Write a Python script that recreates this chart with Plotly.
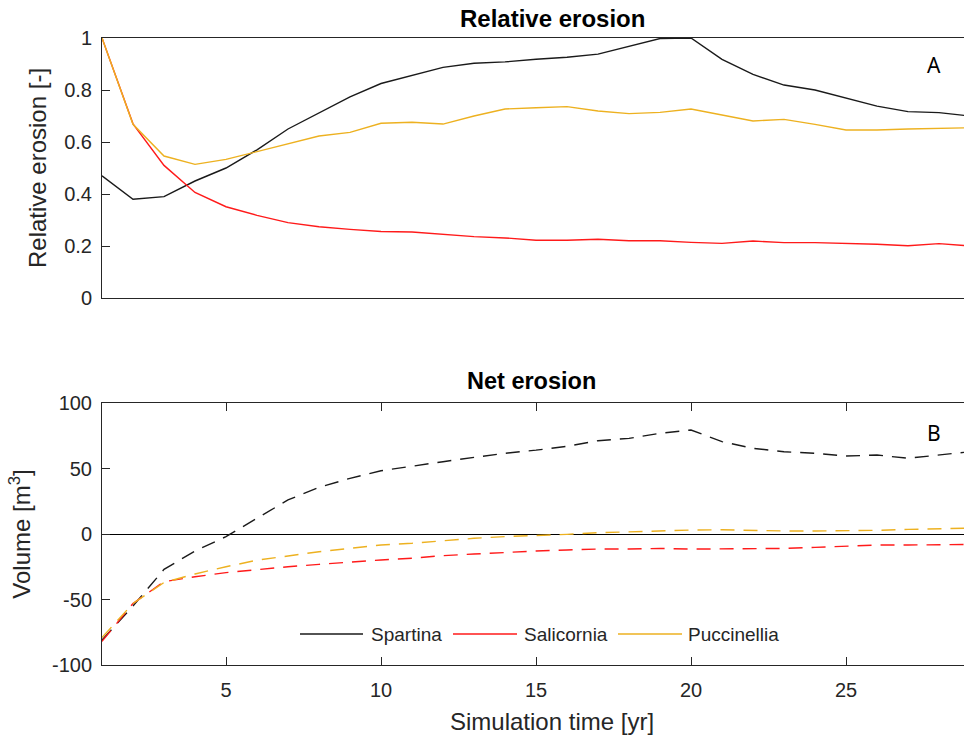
import plotly.graph_objects as go

years = list(range(1, 30))

# Relative erosion [-]
rel_spartina = [0.47, 0.38, 0.39, 0.45, 0.50, 0.57, 0.65, 0.713, 0.774, 0.825,
                0.857, 0.887, 0.903, 0.908, 0.918, 0.926, 0.938, 0.967, 0.998, 1.0,
                0.918, 0.86, 0.819, 0.80, 0.768, 0.738, 0.717, 0.713, 0.70]
rel_salicornia = [1.0, 0.67, 0.51, 0.406, 0.351, 0.318, 0.29, 0.274, 0.264, 0.256,
                  0.254, 0.245, 0.236, 0.231, 0.222, 0.222, 0.226, 0.22, 0.22, 0.214,
                  0.21, 0.219, 0.213, 0.213, 0.21, 0.207, 0.201, 0.209, 0.20]
rel_puccinellia = [1.0, 0.668, 0.546, 0.514, 0.533, 0.563, 0.595, 0.623, 0.637, 0.672,
                   0.676, 0.669, 0.70, 0.727, 0.732, 0.736, 0.719, 0.709, 0.714, 0.727,
                   0.704, 0.681, 0.687, 0.668, 0.646, 0.646, 0.65, 0.653, 0.655]

# Net erosion volume [m3]
net_spartina = [-81, -55, -27, -13, -2, 12, 26, 35.6, 42.5, 48.3,
                52, 55.2, 58.5, 61.6, 64, 67, 71.2, 73, 76.9, 79.4,
                70.5, 65.4, 62.8, 61.6, 59.5, 60.3, 57.8, 60.3, 62.8]
net_salicornia = [-82, -53, -36.4, -32.6, -29.5, -27, -25, -23.2, -21.4, -19.8,
                  -18.5, -16.5, -15.3, -14, -13, -12.2, -11.5, -11.5, -11, -11.5,
                  -11.5, -11, -11, -10.2, -9.2, -8.4, -8.4, -8.4, -8]
net_puccinellia = [-79, -53, -37, -30.5, -25, -20, -16.8, -13.5, -11, -8.4,
                   -7.1, -5.1, -3.3, -2, -1.3, -0.3, 1, 1.8, 2.5, 3,
                   3.2, 2.5, 2.3, 2.3, 2.5, 2.8, 3.5, 3.8, 4.5]

names = ["Spartina", "Salicornia", "Puccinellia"]
colors = ["#1a1a1a", "#ff1a1a", "#EDB120"]
rel_series = [rel_spartina, rel_salicornia, rel_puccinellia]
net_series = [net_spartina, net_salicornia, net_puccinellia]

rel_ticks = [0, 0.2, 0.4, 0.6, 0.8, 1]
rel_ticktext = ["0", "0.2", "0.4", "0.6", "0.8", "1"]
net_ticks = [-100, -50, 0, 50, 100]
net_ticktext = ["-100", "-50", "0", "50", "100"]
year_ticks = [5, 10, 15, 20, 25]

W, H = 964, 738
L = 102
px_per_year = 31
x_max = 1 + (W - L) / px_per_year

def py(p):
    return (H - p) / H

def px(p):
    return (p - L) / (W - L)

fig = go.Figure()
for name, col, ys in zip(names, colors, rel_series):
    fig.add_trace(go.Scatter(x=years, y=ys, mode="lines", name=name,
                             line=dict(color=col, width=1.4),
                             xaxis="x", yaxis="y", showlegend=False))
for name, col, ys in zip(names, colors, net_series):
    fig.add_trace(go.Scatter(x=years, y=ys, mode="lines", name=name,
                             line=dict(color=col, width=1.4, dash="14px,9px"),
                             xaxis="x2", yaxis="y2", showlegend=False))

FONT = "Liberation Sans, Arial, sans-serif"
tickfont = dict(family=FONT, size=20, color="#262626")
labfont = dict(family=FONT, size=24, color="#262626")
axcol = "#262626"

# manual legend (line samples + labels) placed like the reference
legend_line_x = [(300, 363), (453, 517), (618, 682)]
legend_text_x = [369, 522, 686]
legend_y = 634
shapes = []
annotations = []
for (x0, x1), tx, name, col in zip(legend_line_x, legend_text_x, names, colors):
    shapes.append(dict(type="line", xref="paper", yref="paper", x0=px(x0), x1=px(x1),
                       y0=py(legend_y), y1=py(legend_y), line=dict(color=col, width=1.4)))
    annotations.append(dict(text=name, x=px(tx), y=py(legend_y), xref="paper", yref="paper",
                            showarrow=False, xanchor="left", yanchor="middle",
                            font=dict(family=FONT, size=19, color="#262626")))

annotations += [
    dict(text="<b>Relative erosion</b>", x=px(552), y=py(18), xref="paper", yref="paper",
         showarrow=False, xanchor="center", yanchor="middle",
         font=dict(family=FONT, size=24, color="#000000")),
    dict(text="<b>Net erosion</b>", x=px(531), y=py(381), xref="paper", yref="paper",
         showarrow=False, xanchor="center", yanchor="middle",
         font=dict(family=FONT, size=23.5, color="#000000")),
    dict(text="Simulation time [yr]", x=px(552), y=py(721), xref="paper", yref="paper",
         showarrow=False, xanchor="center", yanchor="middle", font=labfont),
    dict(text="A", x=px(934), y=py(65), xref="paper", yref="paper", showarrow=False,
         xanchor="center", yanchor="middle",
         font=dict(family="Noto Sans, sans-serif", size=21, color="#000000")),
    dict(text="B", x=px(934), y=py(433), xref="paper", yref="paper", showarrow=False,
         xanchor="center", yanchor="middle",
         font=dict(family="Noto Sans, sans-serif", size=21, color="#000000")),
]

fig.update_layout(
    width=W, height=H,
    margin=dict(l=L, r=0, t=0, b=0, autoexpand=False),
    plot_bgcolor="white", paper_bgcolor="white",
    showlegend=False,
    xaxis=dict(domain=[0, 1], range=[1, x_max], anchor="y", showline=True, linecolor=axcol,
               linewidth=1, mirror=True, ticks="", showticklabels=False, showgrid=False,
               zeroline=False, automargin=False),
    yaxis=dict(domain=[py(298), py(38)], range=[0, 1], anchor="x", showline=True,
               linecolor=axcol, linewidth=1, ticks="inside", ticklen=8, tickcolor=axcol,
               tickvals=rel_ticks, ticktext=rel_ticktext, ticklabelstandoff=5,
               tickfont=tickfont, showgrid=False, zeroline=False, automargin=False,
               title=dict(text="Relative erosion [-]", font=labfont, standoff=10)),
    xaxis2=dict(domain=[0, 1], range=[1, x_max], anchor="y2", showline=True, linecolor=axcol,
                linewidth=1, mirror="ticks", ticks="inside", ticklen=8, tickcolor=axcol,
                tickvals=year_ticks, tickfont=tickfont, ticklabelstandoff=7,
                showgrid=False, zeroline=False, automargin=False),
    yaxis2=dict(domain=[py(665), py(403)], range=[-100, 100], anchor="x2", showline=True,
                linecolor=axcol, linewidth=1, ticks="inside", ticklen=8, tickcolor=axcol,
                tickvals=net_ticks, ticktext=net_ticktext, ticklabelstandoff=5,
                tickfont=tickfont, showgrid=False, automargin=False,
                zeroline=True, zerolinecolor="#000000", zerolinewidth=1.2,
                title=dict(text="Volume [m<sup>3</sup>]", font=labfont, standoff=14)),
    yaxis3=dict(overlaying="y", side="right", anchor="x", range=[0, 1], ticks="inside",
                ticklen=3, tickcolor=axcol, tickvals=rel_ticks, automargin=False,
                showticklabels=False, showgrid=False, zeroline=False, showline=False),
    yaxis4=dict(overlaying="y2", side="right", anchor="x2", range=[-100, 100], ticks="inside",
                ticklen=3, tickcolor=axcol, tickvals=net_ticks, automargin=False,
                showticklabels=False, showgrid=False, zeroline=False, showline=False),
    shapes=shapes,
    annotations=annotations,
)

fig.write_html("out.html")
